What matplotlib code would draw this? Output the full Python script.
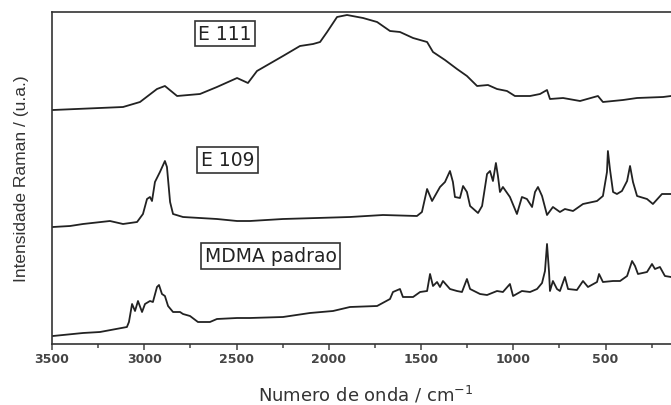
#!/usr/bin/env python3

import numpy as np
import matplotlib; matplotlib.use('Agg')
from matplotlib import pyplot as plt
from matplotlib.ticker import MultipleLocator

############## DATA ################

# wavenumbers (cm-1) and intensities (arbitrary units)
e111_wn = [3495, 3115, 3023, 2931, 2888, 2822, 2698, 2606, 2497, 2438, 2389, 2248,
           2156, 2085, 2047, 2009, 1955, 1901, 1814, 1738, 1668, 1614, 1543, 1467,
           1435, 1370, 1305, 1251, 1196, 1137, 1088, 1034, 991, 909, 855, 817, 801,
           730, 638, 541, 514, 405, 329, 188, 145]
e111_int = [234, 237, 242, 255, 258, 248, 250, 257, 266, 261, 273, 288,
            298, 300, 302, 312, 327, 329, 326, 322, 313, 312, 306, 302,
            292, 284, 275, 268, 258, 259, 255, 253, 248, 248, 250, 254, 245,
            246, 243, 248, 242, 244, 246, 247, 248]

e109_wn = [3495, 3402, 3332, 3186, 3115, 3039, 3007, 2985, 2969, 2958, 2942, 2915,
           2888, 2877, 2860, 2844, 2790, 2698, 2606, 2497, 2427, 2248, 2064, 1885,
           1706, 1522, 1495, 1467, 1440, 1397, 1370, 1343, 1327, 1316, 1289, 1272,
           1251, 1234, 1191, 1169, 1142, 1126, 1110, 1094, 1083, 1072, 1056, 1018,
           980, 953, 926, 898, 882, 866, 844, 817, 785, 747, 720, 676, 622, 546,
           514, 492, 487, 476, 459, 438, 411, 383, 367, 351, 329, 275, 243, 194, 145]
e109_int = [117, 118, 120, 123, 120, 122, 130, 145, 147, 143, 162, 172,
            183, 177, 142, 130, 127, 126, 125, 123, 123, 125, 126, 127,
            129, 128, 132, 155, 143, 157, 162, 173, 162, 147, 146, 158,
            152, 138, 131, 138, 170, 173, 163, 181, 168, 152, 157, 147,
            130, 147, 145, 137, 152, 157, 148, 129, 137, 132, 135, 133, 140, 143,
            148, 172, 193, 175, 152, 150, 153, 163, 178, 162, 148, 145, 140, 150, 150]

mdma_wn = [3495, 3332, 3240, 3094, 3083, 3066, 3050, 3034, 3012, 2996, 2969, 2953,
           2931, 2920, 2904, 2888, 2871, 2844, 2806, 2790, 2752, 2709, 2644, 2606,
           2497, 2427, 2248, 2102, 1977, 1885, 1738, 1668, 1652, 1614, 1598, 1543,
           1505, 1467, 1451, 1435, 1413, 1397, 1381, 1343, 1305, 1278, 1251, 1234,
           1180, 1142, 1088, 1056, 1018, 1001, 953, 909, 871, 844, 828, 817, 806,
           801, 785, 763, 747, 720, 703, 655, 622, 595, 546, 535, 514, 459, 421,
           383, 356, 340, 324, 275, 248, 232, 205, 178, 145]
mdma_int = [8, 11, 12, 17, 22, 40, 33, 43, 32, 40, 43, 42,
            57, 59, 50, 48, 38, 32, 32, 30, 28, 22, 22, 25,
            26, 26, 27, 31, 33, 37, 38, 45, 52, 55, 47, 47,
            52, 53, 70, 58, 62, 57, 63, 55, 53, 52, 65, 55,
            50, 49, 53, 52, 60, 48, 53, 52, 55, 61, 73, 100, 72,
            53, 63, 55, 53, 67, 55, 54, 63, 57, 62, 70, 62, 63, 63,
            68, 83, 78, 70, 72, 80, 75, 77, 68, 67]

labels = ['E 111', 'E 109', 'MDMA padrao']

############## PLOT ################

fig = plt.figure(figsize=(6.71, 4.06), dpi=100)
ax = fig.add_axes([52 / 671, 61 / 406, 619 / 671, 332 / 406])

for wn, inten in [(e111_wn, e111_int), (e109_wn, e109_int), (mdma_wn, mdma_int)]:
    ax.plot(wn, inten, color='#222222', linewidth=1.3)

# sample names in boxes
label_pos = [(2562, 310.5), (2549, 184), (2316, 88)]
for (x, y), name in zip(label_pos, labels):
    ax.text(x, y, name, ha='center', va='center', fontsize=13.5, family='DejaVu Sans',
            color='#222222',
            bbox=dict(boxstyle='square,pad=0.18', facecolor='white',
                      edgecolor='#333333', linewidth=1.2))

ax.set_xlim(3500, 145)
ax.set_ylim(0, 332)

ax.xaxis.set_major_locator(MultipleLocator(500))
ax.xaxis.set_minor_locator(MultipleLocator(250))
ax.tick_params(axis='x', which='major', direction='out', length=4.5, width=1.1,
               pad=1.5, colors='#444444', labelsize=9)
ax.tick_params(axis='x', which='minor', direction='out', length=3, width=1.1,
               colors='#444444')
for lab in ax.get_xticklabels():
    lab.set_fontweight('bold')
ax.set_yticks([])

ax.spines['right'].set_visible(False)
for s in ['left', 'top', 'bottom']:
    ax.spines[s].set_color('#333333')
    ax.spines[s].set_linewidth(1.2)

ax.set_xlabel('Numero de onda / cm$^{-1}$', fontsize=13, family='DejaVu Sans',
              color='#333333')
ax.xaxis.set_label_coords(0.506, -0.118)
ax.set_ylabel('Intensidade Raman / (u.a.)', fontsize=12.5, family='Liberation Sans',
              color='#333333')
ax.yaxis.set_label_coords(-0.037, 0.5)

plt.savefig('out.png', dpi=100)
plt.close()
